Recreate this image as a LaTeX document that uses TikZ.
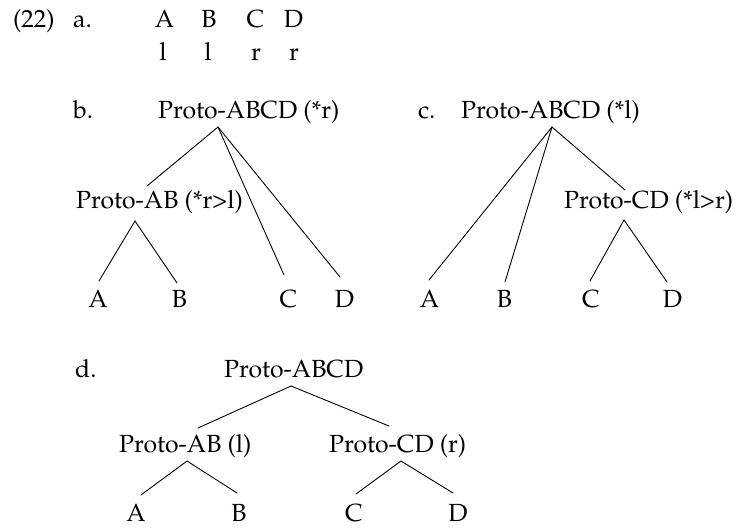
\documentclass[tikz,border=0pt]{standalone}
\usepackage[T1]{fontenc}
\usepackage{mathpazo}
\begin{document}
\begin{tikzpicture}[x=1pt,y=-1pt,
  lbl/.style={inner sep=0pt, anchor=base west, font=\fontsize{24.8}{29}\selectfont},
  leaf/.style={inner sep=0pt, anchor=base, font=\fontsize{24.8}{29}\selectfont},
  edge/.style={line width=0.9pt, line cap=round}]
\useasboundingbox (0,0) rectangle (740,528);
% (22) a.
\node[lbl] (num) at (13,27) {(22)};
\node[lbl] (la) at (73,27) {a.};
\node[leaf] (aA) at (164.5,27) {A};
\node[leaf] (aB) at (209,27) {B};
\node[leaf] (aC) at (255.5,27) {C};
\node[leaf] (aD) at (293.5,27) {D};
\node[leaf] (al1) at (163,60) {l};
\node[leaf] (al2) at (208,60) {l};
\node[leaf] (ar1) at (256,60) {r};
\node[leaf] (ar2) at (294,60) {r};
% b.
\node[lbl] (lb) at (73,118) {b.};
\node[lbl] (broot) at (158,118) {Proto-ABCD (*r)};
\node[lbl] (bAB) at (76,208) {Proto-AB (*r>l)};
\node[leaf] (bA) at (98,307) {A};
\node[leaf] (bB) at (179.5,307) {B};
\node[leaf] (bC) at (288.5,307) {C};
\node[leaf] (bD) at (344.5,307) {D};
\coordinate (b0) at (218,127);
\coordinate (b1) at (147,186);
\coordinate (bc) at (284,275);
\coordinate (bd) at (340,277);
\coordinate (b2) at (135,221);
\coordinate (ba) at (99,281);
\coordinate (bb) at (177,283);
\draw[edge] (b0) -- (b1);
\draw[edge] (b0) -- (bc);
\draw[edge] (b0) -- (bd);
\draw[edge] (ba) -- (b2) -- (bb);
% c.
\node[lbl] (lc) at (418,118) {c.};
\node[lbl] (croot) at (461,118) {Proto-ABCD (*l)};
\node[lbl] (cCD) at (564,208) {Proto-CD (*l>r)};
\node[leaf] (cA) at (429.5,307) {A};
\node[leaf] (cB) at (504.5,307) {B};
\node[leaf] (cC) at (591,307) {C};
\node[leaf] (cD) at (672.5,307) {D};
\coordinate (c0) at (552,127);
\coordinate (ca) at (429,280);
\coordinate (cb) at (505,282);
\coordinate (c1) at (625,190);
\coordinate (c2) at (624,220);
\coordinate (cc) at (590,281);
\coordinate (cd) at (667,282);
\draw[edge] (c0) -- (ca);
\draw[edge] (c0) -- (cb);
\draw[edge] (c0) -- (c1);
\draw[edge] (cc) -- (c2) -- (cd);
% d.
\node[lbl] (ld) at (75,377) {d.};
\node[lbl] (droot) at (224,377) {Proto-ABCD};
\node[lbl] (dAB) at (119,452) {Proto-AB (l)};
\node[lbl] (dCD) at (329,452) {Proto-CD (r)};
\node[leaf] (dA) at (136,521) {A};
\node[leaf] (dB) at (239,521) {B};
\node[leaf] (dC) at (354,521) {C};
\node[leaf] (dD) at (458,521) {D};
\coordinate (d0) at (291,386);
\coordinate (d1) at (198,428);
\coordinate (d2) at (389,426);
\coordinate (d3) at (187,461);
\coordinate (da) at (141,495);
\coordinate (db) at (237,493);
\coordinate (d4) at (401,461);
\coordinate (dc) at (356,494);
\coordinate (dd) at (453,493);
\draw[edge] (d1) -- (d0) -- (d2);
\draw[edge] (da) -- (d3) -- (db);
\draw[edge] (dc) -- (d4) -- (dd);
\end{tikzpicture}
\end{document}
